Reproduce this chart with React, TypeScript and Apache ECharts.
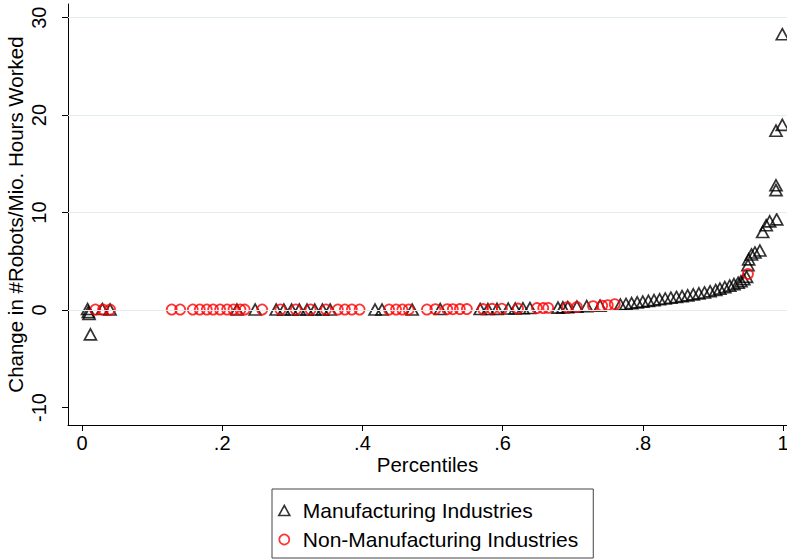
import React, { useEffect, useRef } from "react";
import * as echarts from "echarts";

const manufacturingPct = [
  0.008, 0.009, 0.01, 0.012, 0.029, 0.04,
  0.221, 0.247, 0.277, 0.288, 0.299, 0.31, 0.321, 0.332, 0.343, 0.354, 0.418, 0.428, 0.471,
  0.511, 0.568, 0.579, 0.592, 0.608, 0.618, 0.629, 0.639, 0.679, 0.686, 0.693, 0.706, 0.72, 0.739,
  0.768, 0.776, 0.784, 0.792, 0.8, 0.808, 0.816, 0.824, 0.832, 0.84, 0.848, 0.856, 0.864, 0.872,
  0.88, 0.888, 0.896, 0.904, 0.91, 0.917, 0.924, 0.93, 0.936, 0.94, 0.944, 0.948,
  0.95, 0.951, 0.955, 0.96, 0.967, 0.971, 0.976, 0.981, 0.991, 0.99, 0.99, 0.99, 0.999, 0.999,
];
const manufacturingChange = [
  0.1, -0.2, -0.4, -2.5, 0.1, 0.05,
  0.05, 0.05, 0.05, 0.05, 0.05, 0.05, 0.05, 0.05, 0.05, 0.05, 0.05, 0.05, 0.05,
  0.1, 0.1, 0.1, 0.12, 0.15, 0.15, 0.18, 0.2, 0.25, 0.28, 0.3, 0.35, 0.4, 0.45,
  0.55, 0.62, 0.7, 0.78, 0.86, 0.94, 1.02, 1.1, 1.18, 1.26, 1.34, 1.42, 1.5, 1.6,
  1.7, 1.8, 1.92, 2.05, 2.2, 2.35, 2.5, 2.65, 2.8, 2.95, 3.15, 3.4,
  4.6, 5.2, 5.7, 5.9, 6.1, 8.0, 8.7, 9.1, 9.3, 12.3, 12.8, 18.4, 19.0, 28.3,
];

const nonManufacturingPct = [
  0.019, 0.03, 0.04, 0.128, 0.14, 0.158, 0.168, 0.178, 0.187, 0.197, 0.207, 0.216, 0.226, 0.232,
  0.257, 0.283, 0.305, 0.326, 0.348, 0.365, 0.375, 0.385, 0.396, 0.438, 0.448, 0.457, 0.466,
  0.492, 0.504, 0.521, 0.529, 0.539, 0.549, 0.572, 0.585, 0.599, 0.622, 0.649, 0.658, 0.665,
  0.692, 0.706, 0.729, 0.742, 0.75, 0.76, 0.95,
];
const nonManufacturingChange = [
  0.05, 0.05, 0.05, 0.05, 0.05, 0.05, 0.05, 0.05, 0.05, 0.05, 0.05, 0.05, 0.05, 0.05,
  0.05, 0.05, 0.05, 0.05, 0.05, 0.05, 0.05, 0.05, 0.05, 0.05, 0.05, 0.05, 0.05,
  0.05, 0.08, 0.08, 0.08, 0.1, 0.1, 0.1, 0.12, 0.13, 0.15, 0.2, 0.2, 0.22,
  0.28, 0.3, 0.4, 0.45, 0.5, 0.6, 3.7,
];

const xTicks = [0, 0.2, 0.4, 0.6, 0.8, 1];
const xTickLabels = ["0", ".2", ".4", ".6", ".8", "1"];
const yTicks = [-10, 0, 10, 20, 30];
const yGridValues = [0, 10, 20, 30];

const FONT = "'Liberation Sans', Arial, Helvetica, sans-serif";

export default function App() {
  const ref = useRef<HTMLDivElement>(null);
  useEffect(() => {
    if (!ref.current) return;
    const chart = echarts.init(ref.current, null, { renderer: "svg" });
    const mfg = manufacturingPct.map((x, i) => [x, manufacturingChange[i]]);
    const non = nonManufacturingPct.map((x, i) => [x, nonManufacturingChange[i]]);
    chart.setOption({
      animation: false,
      backgroundColor: "#ffffff",
      textStyle: { fontFamily: FONT },
      grid: { left: 68, right: 0, top: 4, bottom: 134, containLabel: false, outerBoundsMode: "none" },
      xAxis: {
        type: "value",
        min: -0.02,
        max: 1.0057,
        name: "Percentiles",
        nameLocation: "middle",
        nameGap: 29,
        nameMoveOverlap: false,
        nameTextStyle: { fontSize: 20.5, color: "#000", fontFamily: FONT },
        axisLine: { show: true, onZero: false, lineStyle: { color: "#000", width: 1 } },
        axisTick: { show: true, customValues: xTicks, length: 6, lineStyle: { color: "#000" } },
        axisLabel: {
          show: true,
          customValues: xTicks,
          margin: 8,
          fontSize: 20,
          color: "#000",
          fontFamily: FONT,
          formatter: (v: number) => {
            const i = xTicks.findIndex((t) => Math.abs(t - v) < 1e-6);
            return i >= 0 ? xTickLabels[i] : "";
          },
        },
        splitLine: { show: false },
      },
      yAxis: {
        type: "value",
        min: -11.8,
        max: 31.4,
        name: "Change in #Robots/Mio. Hours Worked",
        nameLocation: "middle",
        nameGap: 53,
        nameMoveOverlap: false,
        nameTextStyle: {
          fontSize: 20.5,
          color: "#000",
          fontFamily: FONT,
          align: "center",
          verticalAlign: "middle",
        },
        axisLine: { show: true, onZero: false, lineStyle: { color: "#000", width: 1 } },
        axisTick: { show: true, customValues: yTicks, length: 6, lineStyle: { color: "#000" } },
        axisLabel: {
          show: true,
          customValues: yTicks,
          rotate: 90,
          margin: 29,
          align: "center",
          verticalAlign: "middle",
          fontSize: 20,
          color: "#000",
          fontFamily: FONT,
          formatter: (v: number) => String(Math.round(v)),
        },
        splitLine: { show: false },
      },
      legend: {
        orient: "vertical",
        left: 272,
        top: 489,
        selectedMode: false,
        itemWidth: 11,
        itemHeight: 10,
        itemGap: 8,
        borderColor: "#444",
        borderWidth: 1,
        padding: [11, 15, 8, 6],
        textStyle: { fontSize: 21, color: "#000", fontFamily: FONT, padding: [0, 0, 0, 8] },
        data: [
          {
            name: "Manufacturing Industries",
            icon: "triangle",
            itemStyle: { color: "rgba(0,0,0,0)", borderColor: "#000", borderWidth: 1.6 },
          },
          {
            name: "Non-Manufacturing Industries",
            icon: "circle",
            itemStyle: { color: "rgba(0,0,0,0)", borderColor: "#ff0000", borderWidth: 1.7 },
          },
        ],
      },
      series: [
        {
          name: "grid",
          type: "line",
          data: [],
          z: 1,
          silent: true,
          markLine: {
            silent: true,
            symbol: ["none", "none"],
            label: { show: false },
            lineStyle: { color: "#e3ecef", width: 1.2, type: "solid" },
            data: yGridValues.map((v) => ({ yAxis: v })),
          },
        },
        {
          name: "Manufacturing Industries",
          type: "scatter",
          z: 3,
          symbol: "triangle",
          symbolSize: [12, 11],
          itemStyle: { color: "rgba(0,0,0,0)", borderColor: "#000", borderWidth: 1.7 },
          data: mfg,
        },
        {
          name: "Non-Manufacturing Industries",
          type: "scatter",
          z: 4,
          symbol: "circle",
          symbolSize: 10,
          itemStyle: { color: "rgba(0,0,0,0)", borderColor: "#ff0000", borderWidth: 1.8 },
          data: non,
        },
      ],
    });
    return () => chart.dispose();
  }, []);
  return (
    <div
      ref={ref}
      style={{ position: "fixed", left: 0, top: 0, width: 787, height: 559, background: "#fff" }}
    />
  );
}
